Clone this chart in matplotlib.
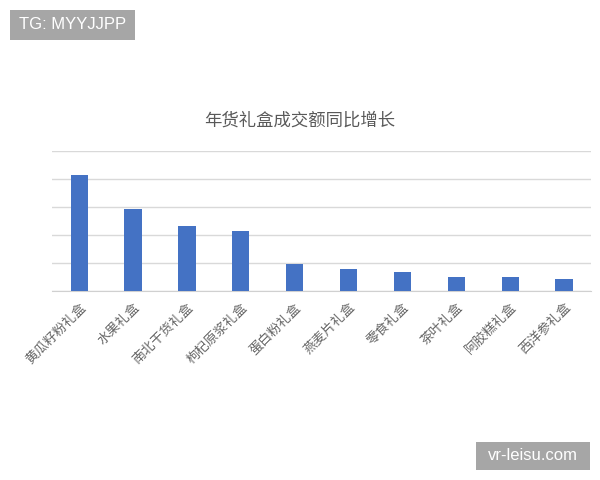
import matplotlib.pyplot as plt
from matplotlib.patches import Rectangle

plt.rcParams['font.family'] = ['Noto Sans CJK SC', 'DejaVu Sans']

# 数据（读自原图，单位为网格间距）
categories = ["黄瓜籽粉礼盒", "水果礼盒", "南北干货礼盒", "枸杞原浆礼盒", "蛋白粉礼盒",
              "燕麦片礼盒", "零食礼盒", "茶叶礼盒", "阿胶糕礼盒", "西洋参礼盒"]
values = [4.14, 2.92, 2.32, 2.15, 0.95, 0.79, 0.69, 0.50, 0.50, 0.44]
y_ticks = [0, 1, 2, 3, 4, 5]

fig = plt.figure(figsize=(6, 4.8), dpi=100)
ax = fig.add_axes([0.087, 0.394, 0.898, 0.292])

x = range(len(categories))
ax.bar(x, values, width=0.32, color="#4472C4", zorder=3)

ax.set_xlim(-0.5, len(categories) - 0.5)
ax.set_ylim(0, 5)
ax.set_yticks(y_ticks)
ax.yaxis.grid(True, color="#d9d9d9", linewidth=1.0, zorder=0)
ax.tick_params(axis="y", length=0, labelleft=False)
ax.tick_params(axis="x", length=0, pad=7, colors="#666666", labelsize=9.5)

for s in ["top", "right", "left"]:
    ax.spines[s].set_visible(False)
ax.spines["bottom"].set_color("#d0d0d0")

ax.set_xticks(list(x))
ax.set_xticklabels(categories, rotation=45, ha="right", rotation_mode="anchor")

fig.text(0.5, 0.748, "年货礼盒成交额同比增长", ha="center", va="center",
         fontsize=12.5, color="#595959")

# 水印
fig.patches.append(Rectangle((0.0167, 0.9167), 0.2083, 0.0625, transform=fig.transFigure,
                             facecolor="#a6a6a6", edgecolor="none"))
fig.text(0.121, 0.948, "TG: MYYJJPP", ha="center", va="center", fontsize=12,
         color="white", family="Liberation Sans")
fig.patches.append(Rectangle((0.793, 0.0208), 0.19, 0.0583, transform=fig.transFigure,
                             facecolor="#a6a6a6", edgecolor="none"))
fig.text(0.888, 0.05, "vr-leisu.com", ha="center", va="center", fontsize=12,
         color="white", family="Liberation Sans")

fig.savefig("out.png", dpi=100)
